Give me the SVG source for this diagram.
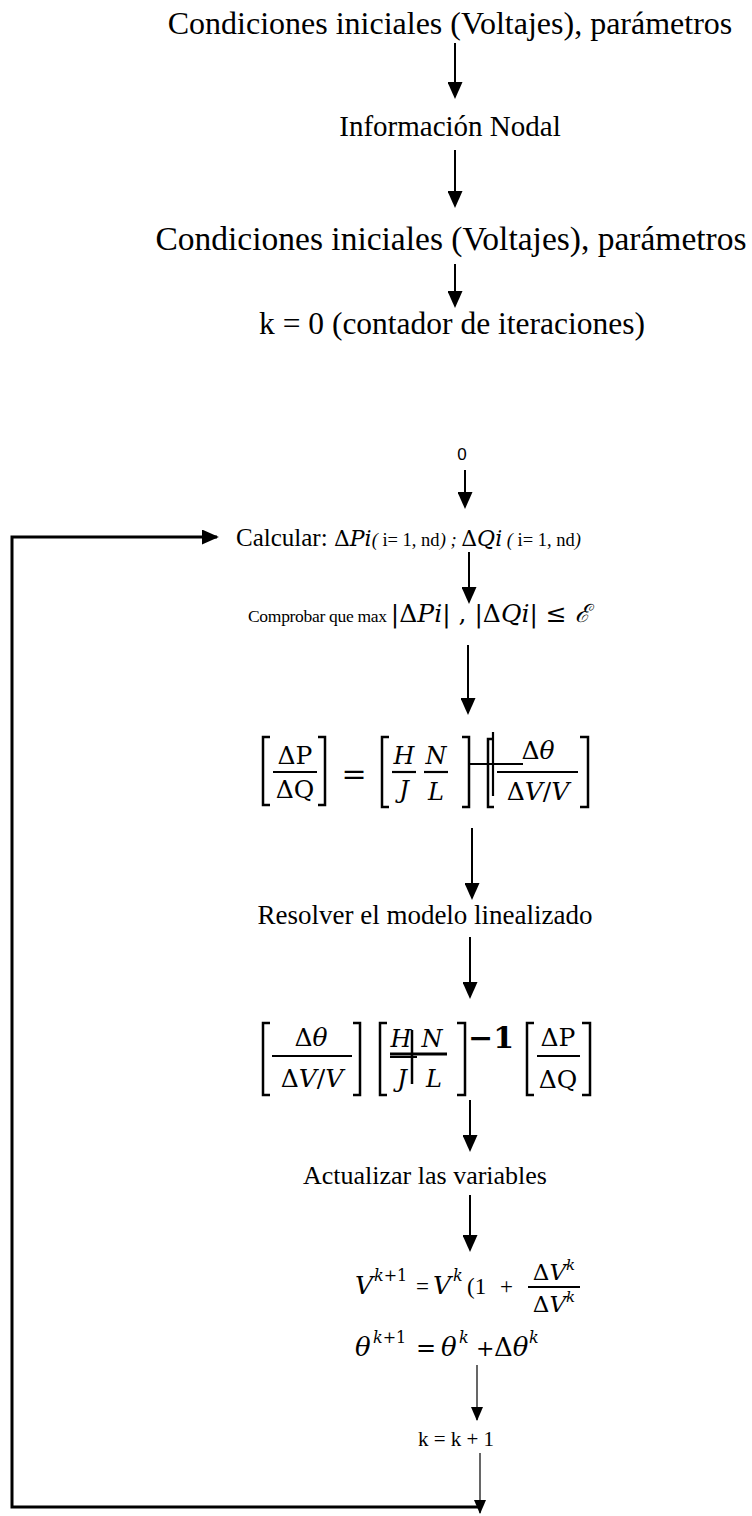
<svg xmlns="http://www.w3.org/2000/svg" width="752" height="1516" viewBox="0 0 752 1516">
<defs>
<marker id="ah" viewBox="0 0 18 16" refX="16" refY="8" markerWidth="19" markerHeight="15" markerUnits="userSpaceOnUse" orient="auto"><path d="M0,0 L18,8 L0,16 z" fill="#000"/></marker>
<marker id="ahs" viewBox="0 0 14 12" refX="13" refY="6" markerWidth="14" markerHeight="12" markerUnits="userSpaceOnUse" orient="auto"><path d="M0,0 L14,6 L0,12 z" fill="#000"/></marker>
</defs>
<style>
.t{font-family:"Liberation Serif","Times New Roman",serif;fill:#000}
.m{font-family:"DejaVu Serif","Liberation Serif",serif;fill:#000}
.i{font-style:italic}
.c{stroke:#000;stroke-width:2;fill:none}
.cs{stroke:#000;stroke-width:1.2;fill:none}
.lp{stroke:#000;stroke-width:3;fill:none}
.br{stroke:#000;stroke-width:2.5;fill:none}
.bar{stroke:#000;stroke-width:2.2}
</style>
<rect width="752" height="1516" fill="#fff"/>

<g id="n1"><text class="t" x="450" y="34" font-size="32" text-anchor="middle">Condiciones iniciales (Voltajes), parámetros</text></g>
<g id="n2"><text class="t" x="450" y="136" font-size="29" text-anchor="middle">Información Nodal</text></g>
<g id="n3"><text class="t" x="451" y="250" font-size="33.5" text-anchor="middle">Condiciones iniciales (Voltajes), parámetros</text></g>
<g id="n4"><text class="t" x="452" y="334" font-size="31.5" text-anchor="middle">k = 0 (contador de iteraciones)</text></g>
<g id="n5"><text x="462" y="460" font-size="17" text-anchor="middle" font-family="Liberation Sans, Arial, sans-serif">0</text></g>

<g id="n6"><text class="t" x="236" y="546" font-size="25">Calcular: <tspan class="m" font-size="22">Δ<tspan class="i">Pi</tspan></tspan><tspan font-size="18.5"><tspan class="i">(</tspan> i= 1, nd<tspan class="i">)</tspan> <tspan class="i">;</tspan> </tspan><tspan class="m" font-size="22">Δ<tspan class="i">Qi</tspan></tspan><tspan font-size="18.5"> <tspan class="i">(</tspan> i= 1, nd<tspan class="i">)</tspan></tspan></text></g>

<g id="n7"><text x="248" y="622"><tspan class="t" font-size="17.5" letter-spacing="-0.3">Comprobar que max </tspan><tspan class="m" font-size="25">|Δ<tspan class="i">Pi</tspan>| , |Δ<tspan class="i">Qi</tspan>| ≤ <tspan class="i">ℰ</tspan></tspan></text></g>

<g id="n8">
<path class="br" d="M270,737 H263 V805 H270"/>
<text class="m" x="295" y="764" font-size="25" text-anchor="middle">ΔP</text>
<line class="bar" x1="273" y1="772" x2="317" y2="772"/>
<text class="m" x="295" y="798" font-size="25" text-anchor="middle">ΔQ</text>
<path class="br" d="M318,737 H325 V805 H318"/>
<text class="m" x="354" y="784" font-size="30" text-anchor="middle">=</text>
<path class="br" d="M389,737 H382 V807 H389"/>
<text class="m i" x="404" y="764" font-size="24" text-anchor="middle">H</text>
<line class="bar" x1="392" y1="772" x2="416" y2="772"/>
<text class="m i" x="404" y="798" font-size="24" text-anchor="middle">J</text>
<text class="m i" x="436" y="764" font-size="24" text-anchor="middle">N</text>
<line class="bar" x1="424" y1="772" x2="448" y2="772"/>
<text class="m i" x="436" y="800" font-size="24" text-anchor="middle">L</text>
<path class="br" d="M462,737 H469 V807 H462"/>
<line class="bar" x1="468" y1="764" x2="523" y2="764"/>
<path class="br" d="M494,739 H488 V807 H494"/>
<line class="bar" x1="493" y1="732" x2="493" y2="796"/>
<text class="m" x="538" y="759" font-size="25" text-anchor="middle">Δ<tspan class="i">θ</tspan></text>
<line class="bar" x1="497" y1="772" x2="578" y2="772"/>
<text class="m" x="538" y="800" font-size="25" text-anchor="middle">Δ<tspan class="i">V</tspan>/<tspan class="i">V</tspan></text>
<path class="br" d="M580,737 H588 V807 H580"/>
</g>

<g id="n9"><text class="t" x="425" y="924" font-size="27" text-anchor="middle">Resolver el modelo linealizado</text></g>

<g id="n10">
<path class="br" d="M270,1023 H263 V1095 H270"/>
<text class="m" x="311" y="1046" font-size="25" text-anchor="middle">Δ<tspan class="i">θ</tspan></text>
<line class="bar" x1="272" y1="1056" x2="352" y2="1056"/>
<text class="m" x="312" y="1087" font-size="25" text-anchor="middle">Δ<tspan class="i">V</tspan>/<tspan class="i">V</tspan></text>
<path class="br" d="M353,1023 H360 V1095 H353"/>
<path class="br" d="M387,1023 H380 V1095 H387"/>
<text class="m i" x="401" y="1047" font-size="24" text-anchor="middle">H</text>
<text class="m i" x="432" y="1047" font-size="24" text-anchor="middle">N</text>
<line x1="390" y1="1054" x2="447" y2="1054" stroke="#000" stroke-width="3"/>
<line x1="390" y1="1057" x2="417" y2="1057" stroke="#000" stroke-width="2"/>
<line x1="412" y1="1030" x2="412" y2="1084" stroke="#000" stroke-width="2.5"/>
<text class="m i" x="402" y="1087" font-size="24" text-anchor="middle">J</text>
<text class="m i" x="434" y="1087" font-size="24" text-anchor="middle">L</text>
<path class="br" d="M457,1023 H465 V1095 H457"/>
<text class="m" x="468" y="1048" font-size="30" font-weight="bold">−1</text>
<path class="br" d="M534,1023 H527 V1095 H534"/>
<text class="m" x="558" y="1046" font-size="25" text-anchor="middle">ΔP</text>
<line class="bar" x1="537" y1="1056" x2="580" y2="1056"/>
<text class="m" x="558" y="1088" font-size="25" text-anchor="middle">ΔQ</text>
<path class="br" d="M582,1023 H590 V1095 H582"/>
</g>

<g id="n11"><text class="t" x="425" y="1184" font-size="26" text-anchor="middle">Actualizar las variables</text></g>

<g id="n12">
<text class="m i" x="355" y="1294" font-size="25">V</text>
<text class="m" x="374" y="1281" font-size="16"><tspan class="i">k</tspan>+1</text>
<text class="t" x="416" y="1294" font-size="23">=</text>
<text class="m i" x="433" y="1294" font-size="25">V</text>
<text class="m i" x="453" y="1281" font-size="16">k</text>
<text class="t" x="467" y="1294" font-size="23">(1</text>
<text class="t" x="500" y="1294" font-size="23">+</text>
<text class="m" x="554" y="1280" font-size="23" text-anchor="middle">Δ<tspan class="i">V</tspan><tspan class="i" font-size="15" dy="-10">k</tspan></text>
<line class="bar" x1="528" y1="1287" x2="580" y2="1287"/>
<text class="m" x="554" y="1312" font-size="23" text-anchor="middle">Δ<tspan class="i">V</tspan><tspan class="i" font-size="15" dy="-10">k</tspan></text>
</g>

<g id="n13">
<text class="m i" x="355" y="1356" font-size="26">θ</text>
<text class="m" x="373" y="1343" font-size="16"><tspan class="i">k</tspan>+1</text>
<text class="m" x="416" y="1356" font-size="24">=</text>
<text class="m i" x="441" y="1356" font-size="26">θ</text>
<text class="m i" x="459" y="1343" font-size="16">k</text>
<text class="m" x="476" y="1356" font-size="22">+</text>
<text class="m" x="494" y="1356" font-size="26">Δ<tspan class="i">θ</tspan></text>
<text class="m i" x="529" y="1343" font-size="16">k</text>
</g>

<g id="n14"><text class="t" x="456" y="1446" font-size="21" text-anchor="middle">k = k + 1</text></g>

<g id="connectors">
<line class="c" x1="455" y1="43" x2="455" y2="97" marker-end="url(#ah)"/>
<line class="c" x1="455" y1="150" x2="455" y2="206" marker-end="url(#ah)"/>
<line class="c" x1="455" y1="264" x2="455" y2="306" marker-end="url(#ah)"/>
<line class="c" x1="465" y1="470" x2="465" y2="507" marker-end="url(#ah)"/>
<line class="c" x1="469" y1="552" x2="469" y2="602" marker-end="url(#ah)"/>
<line class="c" x1="468" y1="645" x2="468" y2="713" marker-end="url(#ah)"/>
<line class="c" x1="472" y1="828" x2="472" y2="898" marker-end="url(#ah)"/>
<line class="c" x1="470" y1="937" x2="470" y2="997" marker-end="url(#ah)"/>
<line class="c" x1="470" y1="1100" x2="470" y2="1150" marker-end="url(#ah)"/>
<line class="c" x1="470" y1="1195" x2="470" y2="1250" marker-end="url(#ah)"/>
<line class="cs" x1="477" y1="1365" x2="477" y2="1420" marker-end="url(#ahs)"/>
<line class="cs" x1="480" y1="1453" x2="480" y2="1513" marker-end="url(#ahs)"/>
<polyline class="lp" points="480,1507 12,1507 12,537 217,537" marker-end="url(#ah)"/>
</g>
</svg>
